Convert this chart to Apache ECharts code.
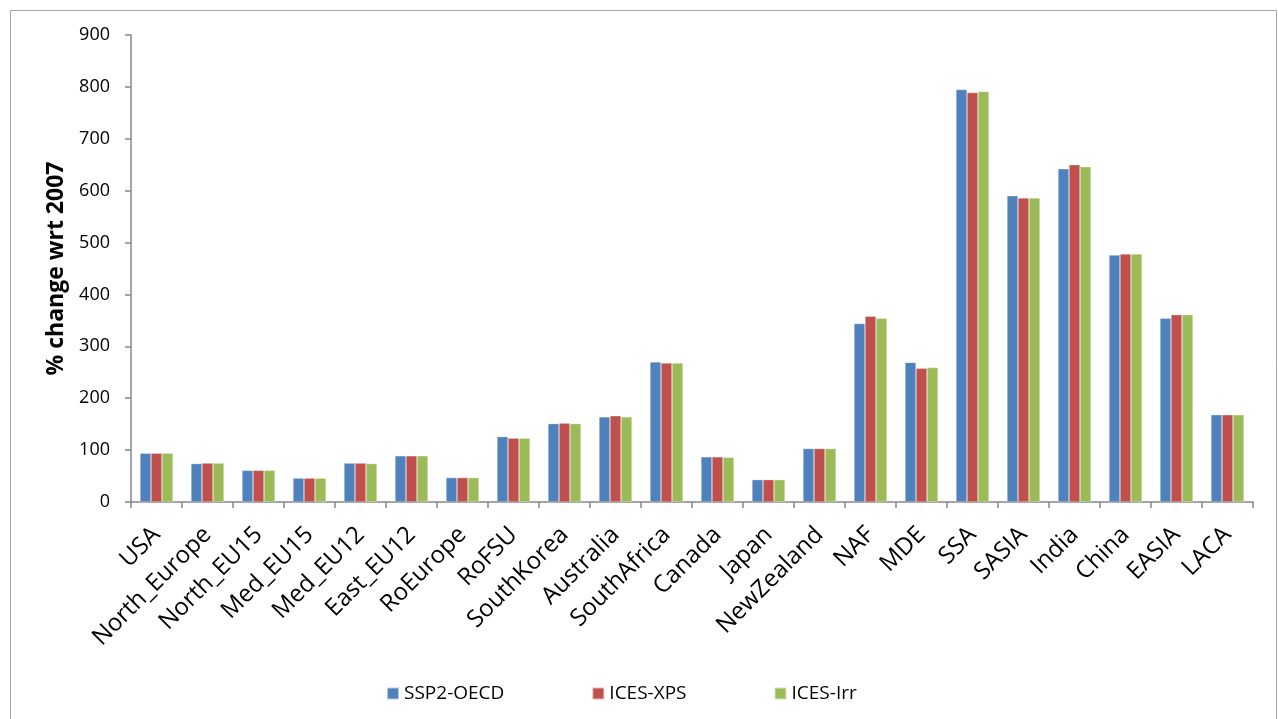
<!DOCTYPE html>
<html>
<head>
<meta charset="utf-8">
<script src="https://cdn.jsdelivr.net/npm/echarts@6/dist/echarts.min.js"></script>
<style>
  html, body { margin: 0; padding: 0; background: #ffffff; }
  #chart { width: 1278px; height: 719px; }
</style>
</head>
<body>
<div id="chart"></div>
<script>
// Regions on the category axis
const regions = ['USA', 'North_Europe', 'North_EU15', 'Med_EU15', 'Med_EU12', 'East_EU12', 'RoEurope',
  'RoFSU', 'SouthKorea', 'Australia', 'SouthAfrica', 'Canada', 'Japan', 'NewZealand',
  'NAF', 'MDE', 'SSA', 'SASIA', 'India', 'China', 'EASIA', 'LACA'];

// % change with respect to 2007, per scenario
const ssp2Oecd = [94, 74, 61, 46, 75, 89, 47, 126, 151, 164, 270, 87, 43, 103, 344, 269, 795, 590, 642, 476, 354, 168];
const icesXps  = [94, 75, 61, 46, 75, 89, 47, 123, 152, 166, 268, 87, 43, 103, 358, 258, 789, 586, 650, 478, 361, 168];
const icesIrr  = [94, 75, 61, 46, 74, 89, 47, 123, 151, 164, 268, 86, 43, 103, 354, 259, 791, 586, 646, 478, 361, 168];

const yTicks = { min: 0, max: 900, interval: 100 };
const yTitle = '% change wrt 2007';

const seriesDefs = [
  { name: 'SSP2-OECD', data: ssp2Oecd, color: '#4F81BD' },
  { name: 'ICES-XPS', data: icesXps, color: '#C0504D' },
  { name: 'ICES-Irr', data: icesIrr, color: '#9BBB59' }
];

const font = '"Open Sans", "Noto Sans", sans-serif';
const chart = echarts.init(document.getElementById('chart'), null, { renderer: 'canvas' });

chart.setOption({
  animation: false,
  backgroundColor: '#ffffff',
  graphic: [{
    type: 'rect',
    shape: { x: 10.5, y: 10.5, width: 1266, height: 720 },
    style: { fill: 'none', stroke: '#a6a6a6', lineWidth: 1 },
    silent: true
  }],
  grid: { left: 131, right: 25, top: 35, bottom: 217, containLabel: false },
  legend: {
    top: 679,
    left: 381,
    itemWidth: 12,
    itemHeight: 12,
    itemGap: 87,
    icon: 'rect',
    textStyle: { fontFamily: font, fontSize: 19, color: '#000000' },
    data: seriesDefs.map(s => s.name)
  },
  xAxis: {
    type: 'category',
    data: regions,
    axisLine: { lineStyle: { color: '#868686', width: 1.5 } },
    axisTick: { show: true, length: 6, alignWithLabel: false, lineStyle: { color: '#868686', width: 1.5 } },
    axisLabel: {
      rotate: 45,
      interval: 0,
      margin: 29,
      fontFamily: font,
      fontSize: 24,
      color: '#000000'
    }
  },
  yAxis: {
    type: 'value',
    min: yTicks.min,
    max: yTicks.max,
    interval: yTicks.interval,
    name: yTitle,
    nameLocation: 'middle',
    nameGap: 50,
    nameTextStyle: { fontFamily: font, fontSize: 23, fontWeight: 'bold', color: '#000000' },
    axisLine: { show: true, lineStyle: { color: '#868686', width: 1.5 } },
    axisTick: { show: true, length: 6, lineStyle: { color: '#868686', width: 1.5 } },
    splitLine: { show: false },
    axisLabel: { fontFamily: font, fontSize: 18, color: '#000000', margin: 21 }
  },
  series: seriesDefs.map(s => ({
    name: s.name,
    type: 'bar',
    data: s.data,
    barWidth: 11,
    barGap: '0%',
    itemStyle: { color: s.color, borderColor: 'rgba(255,255,255,0.6)', borderWidth: 0.5 }
  }))
});
</script>
</body>
</html>
